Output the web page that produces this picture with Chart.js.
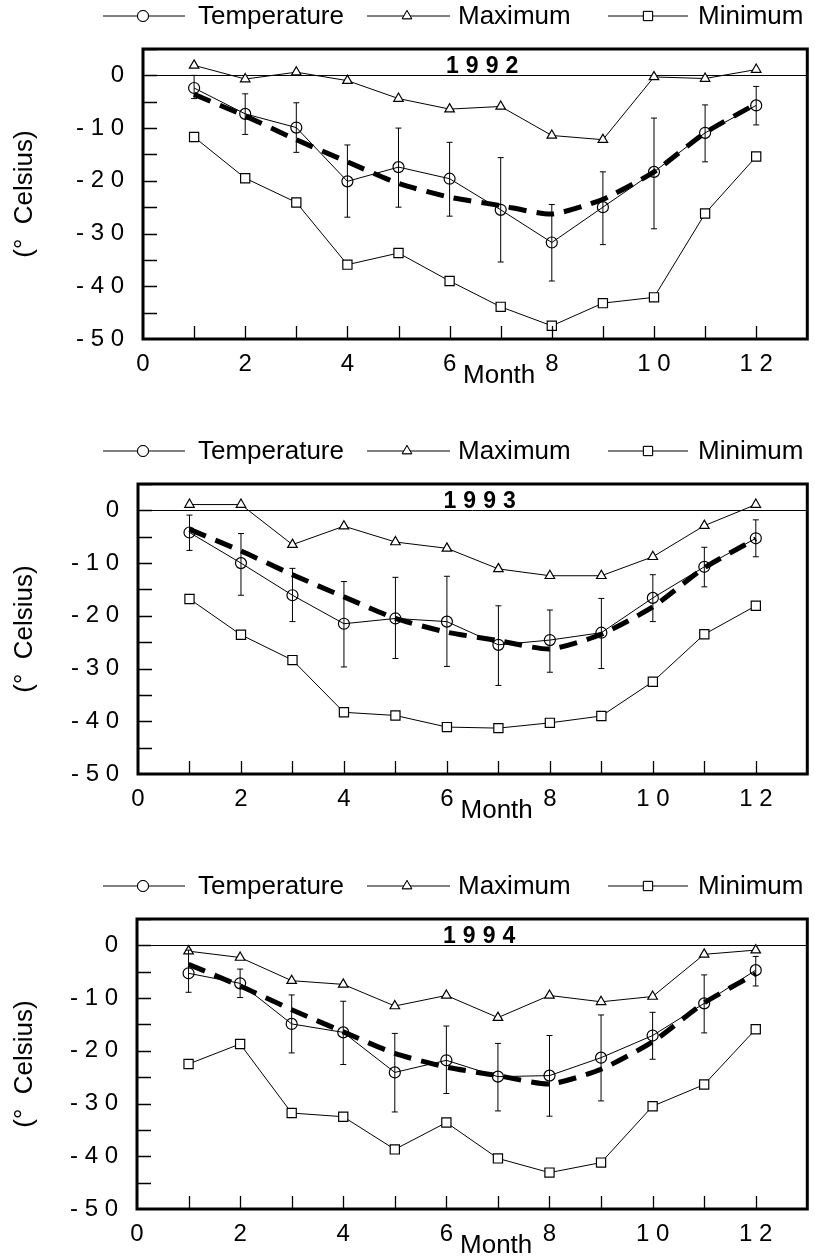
<!DOCTYPE html>
<html>
<head>
<meta charset="utf-8">
<script src="https://cdn.jsdelivr.net/npm/chart.js@4.4.0/dist/chart.umd.min.js"></script>
<style>
  html, body { margin: 0; padding: 0; background: #fff; }
  .panel { width: 815px; height: 435px; }
  canvas { display: block; }
</style>
</head>
<body>
<div class="panel"><canvas id="c1992" width="815" height="435"></canvas></div>
<div class="panel"><canvas id="c1993" width="815" height="435"></canvas></div>
<div class="panel"><canvas id="c1994" width="815" height="435"></canvas></div>
<script>
// months on the x axis
const months = [1, 2, 3, 4, 5, 6, 7, 8, 9, 10, 11, 12];

// long-term monthly mean (thick dashed curve, same in every panel)
const normalTemp = [-3.6, -7.7, -12.2, -16.4, -20.5, -23.1, -24.7, -26.3, -23.5, -18.3, -10.9, -5.4];

// 1992
const temp1992   = [-2.4, -7.3, -9.9, -20.1, -17.4, -19.6, -25.5, -31.7, -25.0, -18.3, -10.9, -5.7];
const tempHi1992 = [0.0, -3.5, -5.2, -13.2, -10.0, -12.7, -15.6, -24.5, -18.3, -8.1, -5.6, -2.1];
const tempLo1992 = [-4.4, -11.2, -14.6, -26.9, -25.0, -26.7, -35.4, -39.0, -32.1, -29.1, -16.4, -9.4];
const max1992    = [1.9, -0.7, 0.6, -1.0, -4.4, -6.4, -5.9, -11.4, -12.2, -0.3, -0.6, 1.1];
const min1992    = [-11.7, -19.5, -24.1, -35.9, -33.7, -39.0, -43.9, -47.5, -43.2, -42.1, -26.2, -15.4];

// 1993
const temp1993   = [-4.2, -10.0, -16.1, -21.5, -20.5, -21.1, -25.5, -24.6, -23.2, -16.6, -10.7, -5.3];
const tempHi1993 = [-0.9, -4.4, -11.0, -13.5, -12.7, -12.5, -18.1, -18.9, -16.7, -12.2, -7.0, -1.8];
const tempLo1993 = [-7.6, -16.1, -21.1, -29.7, -28.1, -29.6, -33.2, -30.7, -30.0, -21.1, -14.5, -8.8];
const max1993    = [1.1, 1.1, -6.5, -3.0, -6.0, -7.2, -11.1, -12.4, -12.4, -8.8, -2.9, 1.1];
const min1993    = [-16.8, -23.6, -28.4, -38.3, -38.9, -41.1, -41.3, -40.3, -39.0, -32.5, -23.5, -18.1];

// 1994
const temp1994   = [-5.3, -7.2, -14.9, -16.5, -24.1, -21.8, -24.9, -24.7, -21.3, -17.1, -11.0, -4.7];
const tempHi1994 = [-0.9, -4.5, -9.4, -10.6, -16.7, -15.3, -18.6, -17.1, -13.2, -12.7, -5.6, -2.1];
const tempLo1994 = [-8.9, -9.9, -20.4, -22.6, -31.6, -28.1, -31.4, -32.4, -29.5, -21.6, -16.6, -7.7];
const max1994    = [-1.1, -2.3, -6.7, -7.4, -11.5, -9.5, -13.7, -9.5, -10.7, -9.7, -1.7, -0.9];
const min1994    = [-22.5, -18.7, -31.8, -32.5, -38.7, -33.6, -40.4, -43.1, -41.2, -30.5, -26.4, -15.9];

const legendLabels = ['Temperature', 'Maximum', 'Minimum'];

const FONT = "'Liberation Sans', Arial, sans-serif";

function pts(values) {
    return months.map((m, i) => ({x: m, y: values[i]}));
}

// put a space between characters, like the original tick labels
function spaced(v) {
    return String(v).split('').join(' ');
}

// draws the frame, inward ticks, error bars, year label, month title and legend
const figurePlugin = {
    id: 'figure',
    afterDatasetsDraw(chart, args, opts) {
        const ctx = chart.ctx;
        const {left, right, top, bottom} = chart.chartArea;
        const x = chart.scales.x;
        const y = chart.scales.y;

        ctx.save();
        ctx.strokeStyle = '#000';

        // error bars on the temperature points
        ctx.lineWidth = 1;
        months.forEach((m, i) => {
            const px = x.getPixelForValue(m);
            const yHi = y.getPixelForValue(opts.hi[i]);
            const yLo = y.getPixelForValue(opts.lo[i]);
            ctx.beginPath();
            ctx.moveTo(px, yHi); ctx.lineTo(px, yLo);
            ctx.moveTo(px - 3, yHi); ctx.lineTo(px + 3, yHi);
            ctx.moveTo(px - 3, yLo); ctx.lineTo(px + 3, yLo);
            ctx.stroke();
        });

        // inward tick marks
        ctx.lineWidth = 1.3;
        ctx.beginPath();
        for (let v = -45; v <= 5; v += 5) {
            const py = Math.round(y.getPixelForValue(v)) + 0.5;
            ctx.moveTo(left, py); ctx.lineTo(left + 14, py);
        }
        for (let m = 1; m <= 12; m++) {
            const px = Math.round(x.getPixelForValue(m)) + 0.5;
            ctx.moveTo(px, bottom); ctx.lineTo(px, bottom - 13);
        }
        ctx.stroke();

        // frame
        ctx.lineWidth = 3;
        ctx.strokeRect(left, top, right - left, bottom - top);

        // year label with wide letter spacing
        ctx.fillStyle = '#000';
        ctx.font = 'bold 23px ' + FONT;
        ctx.textBaseline = 'alphabetic';
        ctx.textAlign = 'left';
        const chars = opts.year.split('');
        const gap = 7;
        const widths = chars.map(c => ctx.measureText(c).width);
        const total = widths.reduce((a, b) => a + b, 0) + gap * (chars.length - 1);
        let cx = (left + right) / 2 + 7 - total / 2;
        const baseY = y.getPixelForValue(0) - 2;
        chars.forEach((c, i) => {
            ctx.fillText(c, cx, baseY);
            cx += widths[i] + gap;
        });

        // x axis title
        ctx.font = '26px ' + FONT;
        ctx.textAlign = 'center';
        ctx.textBaseline = 'middle';
        ctx.fillText('Month', (left + right) / 2 + 24, bottom + 37);

        // legend: line with marker, then text
        const ly = 16;
        const items = [
            {x0: 103, x1: 185, mx: 143, tx: 198, style: 'circle', r: 5.5},
            {x0: 367, x1: 450, mx: 407, tx: 458, style: 'triangle', r: 5.5},
            {x0: 608, x1: 688, mx: 648, tx: 698, style: 'rect', r: 6.5}
        ];
        ctx.textAlign = 'left';
        ctx.font = '26px ' + FONT;
        items.forEach((it, i) => {
            ctx.lineWidth = 1;
            ctx.beginPath();
            ctx.moveTo(it.x0, ly); ctx.lineTo(it.x1, ly);
            ctx.stroke();
            ctx.fillStyle = '#fff';
            Chart.helpers.drawPoint(ctx, {pointStyle: it.style, radius: it.r, borderWidth: 1}, it.mx, ly);
            ctx.fill();
            ctx.stroke();
            ctx.fillStyle = '#000';
            ctx.fillText(legendLabels[i], it.tx, ly + 1);
        });

        ctx.restore();
    }
};

function makeChart(id, year, temp, hi, lo, maxT, minT, axisLeft) {
    new Chart(document.getElementById(id), {
        type: 'line',
        data: {
            datasets: [
                {
                    label: 'Mean',
                    data: pts(normalTemp),
                    borderColor: '#000',
                    borderWidth: 5,
                    borderDash: [18, 10],
                    pointRadius: 0,
                    tension: 0.2
                },
                {
                    label: legendLabels[0],
                    data: pts(temp),
                    borderColor: '#000',
                    borderWidth: 1,
                    pointStyle: 'circle',
                    pointRadius: 5.5,
                    pointBorderWidth: 1.2,
                    pointBorderColor: '#000',
                    pointBackgroundColor: 'rgba(0,0,0,0)'
                },
                {
                    label: legendLabels[1],
                    data: pts(maxT),
                    borderColor: '#000',
                    borderWidth: 1,
                    pointStyle: 'triangle',
                    pointRadius: 5.5,
                    pointBorderWidth: 1.2,
                    pointBorderColor: '#000',
                    pointBackgroundColor: '#fff'
                },
                {
                    label: legendLabels[2],
                    data: pts(minT),
                    borderColor: '#000',
                    borderWidth: 1,
                    pointStyle: 'rect',
                    pointRadius: 6.5,
                    pointBorderWidth: 1.2,
                    pointBorderColor: '#000',
                    pointBackgroundColor: '#fff'
                }
            ]
        },
        options: {
            responsive: false,
            animation: false,
            devicePixelRatio: 1,
            layout: {padding: {top: 49, right: 3, bottom: 46, left: 0}},
            plugins: {
                legend: {display: false},
                tooltip: {enabled: false},
                figure: {year, hi, lo}
            },
            scales: {
                x: {
                    type: 'linear',
                    min: 0,
                    max: 13,
                    grid: {display: false},
                    border: {display: false},
                    ticks: {
                        stepSize: 1,
                        autoSkip: false,
                        maxRotation: 0,
                        padding: 3,
                        color: '#000',
                        font: {family: FONT, size: 24},
                        callback: v => (v % 2 === 0 && v < 13) ? spaced(v) : ''
                    },
                    afterFit: s => { s.height = 50; }
                },
                y: {
                    min: -50,
                    max: 5,
                    grid: {
                        drawTicks: false,
                        lineWidth: 1,
                        color: c => (c.tick && c.tick.value === 0) ? '#000' : 'rgba(0,0,0,0)'
                    },
                    border: {display: false},
                    ticks: {
                        stepSize: 5,
                        padding: 19,
                        color: '#000',
                        font: {family: FONT, size: 24},
                        callback: v => v % 10 === 0 ? spaced(v) : ''
                    },
                    title: {
                        display: true,
                        text: '(°  Celsius)',
                        color: '#000',
                        font: {family: FONT, size: 26},
                        padding: {top: 9, bottom: 0}
                    },
                    afterFit: s => { s.width = axisLeft; }
                }
            }
        },
        plugins: [figurePlugin]
    });
}

makeChart('c1992', '1992', temp1992, tempHi1992, tempLo1992, max1992, min1992, 143);
makeChart('c1993', '1993', temp1993, tempHi1993, tempLo1993, max1993, min1993, 138);
makeChart('c1994', '1994', temp1994, tempHi1994, tempLo1994, max1994, min1994, 137);
</script>
</body>
</html>
